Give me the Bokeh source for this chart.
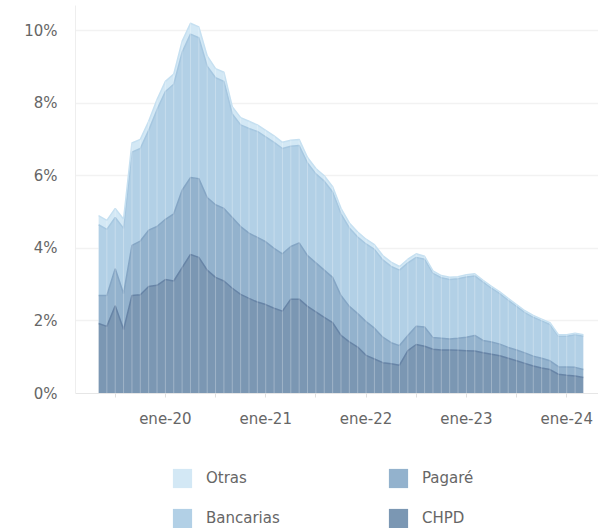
from bokeh.plotting import figure
from bokeh.layouts import column
from bokeh.models import (ColumnDataSource, FixedTicker, Legend, LegendItem, Range1d)
from bokeh.embed import file_html
from bokeh.resources import INLINE

months = ["may-19", "jun-19", "jul-19", "ago-19", "sep-19", "oct-19", "nov-19", "dic-19",
          "ene-20", "feb-20", "mar-20", "abr-20", "may-20", "jun-20", "jul-20", "ago-20",
          "sep-20", "oct-20", "nov-20", "dic-20", "ene-21", "feb-21", "mar-21", "abr-21",
          "may-21", "jun-21", "jul-21", "ago-21", "sep-21", "oct-21", "nov-21", "dic-21",
          "ene-22", "feb-22", "mar-22", "abr-22", "may-22", "jun-22", "jul-22", "ago-22",
          "sep-22", "oct-22", "nov-22", "dic-22", "ene-23", "feb-23", "mar-23", "abr-23",
          "may-23", "jun-23", "jul-23", "ago-23", "sep-23", "oct-23", "nov-23", "dic-23",
          "ene-24", "feb-24", "mar-24"]

chpd = [1.93, 1.85, 2.42, 1.76, 2.70, 2.72, 2.95, 2.98, 3.14, 3.10, 3.47, 3.83, 3.75, 3.40,
        3.20, 3.10, 2.90, 2.73, 2.62, 2.52, 2.45, 2.35, 2.27, 2.60, 2.60, 2.40, 2.25, 2.10,
        1.95, 1.60, 1.42, 1.28, 1.05, 0.95, 0.85, 0.82, 0.78, 1.18, 1.35, 1.30, 1.22, 1.20,
        1.20, 1.19, 1.18, 1.17, 1.12, 1.08, 1.04, 0.97, 0.90, 0.83, 0.76, 0.70, 0.66, 0.53,
        0.50, 0.48, 0.44]
pagare = [0.77, 0.85, 1.02, 0.99, 1.38, 1.48, 1.55, 1.62, 1.66, 1.85, 2.13, 2.12, 2.17, 2.00,
          2.00, 2.00, 1.95, 1.87, 1.80, 1.78, 1.73, 1.65, 1.58, 1.45, 1.55, 1.40, 1.35, 1.30,
          1.25, 1.10, 0.98, 0.92, 0.93, 0.85, 0.70, 0.58, 0.54, 0.42, 0.50, 0.53, 0.32, 0.32,
          0.30, 0.33, 0.37, 0.43, 0.34, 0.34, 0.32, 0.30, 0.30, 0.29, 0.27, 0.27, 0.24, 0.21,
          0.23, 0.24, 0.22]
bancarias = [1.95, 1.82, 1.41, 1.80, 2.57, 2.55, 2.75, 3.22, 3.52, 3.57, 3.80, 3.95, 3.88, 3.62,
             3.50, 3.50, 2.85, 2.80, 2.88, 2.92, 2.89, 2.92, 2.90, 2.76, 2.68, 2.55, 2.45, 2.45,
             2.35, 2.25, 2.16, 2.11, 2.14, 2.17, 2.13, 2.10, 2.08, 2.00, 1.90, 1.87, 1.77, 1.67,
             1.64, 1.64, 1.66, 1.64, 1.61, 1.48, 1.39, 1.30, 1.20, 1.11, 1.07, 1.03, 1.00, 0.84,
             0.85, 0.90, 0.92]
otras = [0.25, 0.25, 0.25, 0.25, 0.25, 0.25, 0.25, 0.28, 0.28, 0.28, 0.30, 0.30, 0.30, 0.28,
         0.25, 0.25, 0.20, 0.20, 0.20, 0.18, 0.18, 0.18, 0.17, 0.17, 0.17, 0.15, 0.15, 0.15,
         0.15, 0.15, 0.14, 0.14, 0.13, 0.13, 0.12, 0.12, 0.10, 0.10, 0.10, 0.08, 0.07, 0.06,
         0.06, 0.06, 0.06, 0.06, 0.05, 0.05, 0.05, 0.05, 0.05, 0.05, 0.05, 0.05, 0.05, 0.04,
         0.04, 0.04, 0.04]

y_ticks = [0, 2, 4, 6, 8, 10]

series = ["CHPD", "Pagaré", "Bancarias", "Otras"]
fill_colors = ["#7b97b3", "#93b2cd", "#b2d0e6", "#d3e8f5"]
line_colors = ["#6784a6", "#84a5c4", "#a6c7e0", "#c6e0f1"]

idx = list(range(len(months)))
data = {"x": idx, "CHPD": chpd, "Pagaré": pagare, "Bancarias": bancarias, "Otras": otras}
totals = [a + b + c + d for a, b, c, d in zip(chpd, pagare, bancarias, otras)]
data["total"] = totals
data["zero"] = [0] * len(idx)
src = ColumnDataSource(data)

FONT = "DejaVu Sans"
TXT = "#666666"

p = figure(frame_width=523, frame_height=388, output_backend="svg", toolbar_location=None,
           x_range=Range1d(-2.75, 59.8), y_range=Range1d(0, 10.69),
           min_border_left=75, min_border_right=0, min_border_top=5, min_border_bottom=0)
p.outline_line_color = None

areas = p.varea_stack(stackers=series, x="x", color=fill_colors, source=src, alpha=1.0)
p.vline_stack(stackers=series, x="x", color=line_colors, line_width=1.5, source=src)

# faint month separators
p.segment(x0="x", y0="zero", x1="x", y1="total", source=src,
          line_color="white", line_alpha=0.28, line_width=1)

# axes
jan_idx = [i for i, m in enumerate(months) if m.startswith("ene")]
jul_idx = [i for i, m in enumerate(months) if m.startswith("jul")]
p.xaxis.ticker = FixedTicker(ticks=jan_idx, minor_ticks=jul_idx)
p.xaxis.major_label_overrides = {i: months[i] for i in jan_idx}
p.xaxis.axis_line_color = "#e6e6e6"
p.xaxis.major_tick_line_color = "#e0e0e0"
p.xaxis.minor_tick_line_color = "#e0e0e0"
p.xaxis.major_tick_in = 0
p.xaxis.major_tick_out = 4
p.xaxis.minor_tick_in = 0
p.xaxis.minor_tick_out = 4
p.xaxis.major_label_standoff = 12
p.xaxis.major_label_text_font = FONT
p.xaxis.major_label_text_font_size = "15px"
p.xaxis.major_label_text_color = TXT

p.yaxis.ticker = FixedTicker(ticks=y_ticks)
p.yaxis.major_label_overrides = {v: f"{v}%" for v in y_ticks}
p.yaxis.axis_line_color = "#eeeeee"
p.yaxis.major_tick_line_color = None
p.yaxis.minor_tick_line_color = None
p.yaxis.major_label_standoff = 12
p.yaxis.major_label_text_font = FONT
p.yaxis.major_label_text_font_size = "15px"
p.yaxis.major_label_text_color = TXT

p.xgrid.grid_line_color = None
p.ygrid.grid_line_color = "#f2f2f2"
p.ygrid.grid_line_width = 1.5

# legend in its own strip below the chart (its renderers lie outside the strip's view)
leg_fig = figure(width=598, height=100, output_backend="svg", toolbar_location=None,
                 x_range=Range1d(0, 1), y_range=Range1d(100, 101),
                 x_axis_type=None, y_axis_type=None, min_border=0)
leg_fig.outline_line_color = None
leg_fig.grid.visible = False
swatches = {s: leg_fig.varea(x="x", y1="zero", y2=s, source=src, color=c)
            for s, c in zip(series, fill_colors)}
order = ["Otras", "Bancarias", "Pagaré", "CHPD"]
legend = Legend(items=[LegendItem(label=s, renderers=[swatches[s]]) for s in order],
                orientation="vertical", nrows=2, location=(95, 0),
                glyph_width=24, glyph_height=24, label_standoff=12, spacing=16,
                label_width=164, padding=0, margin=0,
                border_line_color=None, background_fill_alpha=0,
                label_text_font=FONT, label_text_font_size="15px",
                label_text_color=TXT)
leg_fig.add_layout(legend, "center")

layout = column(p, leg_fig, spacing=0)
open("out.html", "w").write(file_html(layout, INLINE))
